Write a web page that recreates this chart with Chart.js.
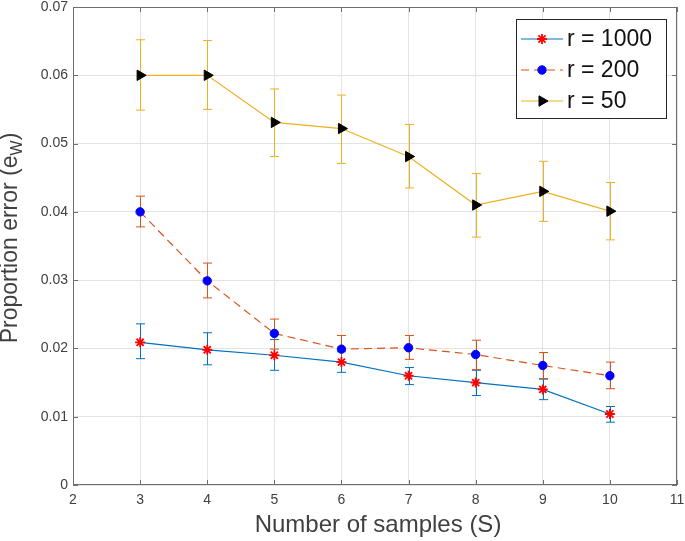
<!DOCTYPE html>
<html>
<head>
<meta charset="utf-8">
<title>Proportion error vs number of samples</title>
<script src="https://cdn.jsdelivr.net/npm/chart.js@4.4.1/dist/chart.umd.min.js"></script>
<style>
  html, body { margin: 0; padding: 0; background: #fff; }
  #chart { display: block; }
</style>
</head>
<body>
<canvas id="chart" width="685" height="541"></canvas>
<script>
// data
const samples = [3, 4, 5, 6, 7, 8, 9, 10];

const r1000 = [0.0209, 0.0198, 0.0190, 0.0180, 0.0160, 0.0150, 0.0140, 0.0104];
const r1000Hi = [0.0236, 0.0223, 0.0213, 0.0195, 0.0172, 0.0168, 0.0155, 0.0115];
const r1000Lo = [0.0185, 0.0176, 0.0168, 0.0165, 0.0147, 0.0131, 0.0125, 0.0092];

const r200 = [0.0400, 0.0299, 0.0222, 0.0199, 0.0201, 0.0191, 0.0175, 0.0160];
const r200Hi = [0.0423, 0.0325, 0.0243, 0.0219, 0.0219, 0.0212, 0.0194, 0.0180];
const r200Lo = [0.0378, 0.0274, 0.0199, 0.0180, 0.0184, 0.0169, 0.0156, 0.0141];

const r50 = [0.0600, 0.0600, 0.0531, 0.0522, 0.0481, 0.0410, 0.0430, 0.0401];
const r50Hi = [0.0652, 0.0651, 0.0580, 0.0571, 0.0528, 0.0456, 0.0474, 0.0443];
const r50Lo = [0.0549, 0.0550, 0.0481, 0.0471, 0.0435, 0.0363, 0.0386, 0.0359];

const seriesNames = ['r = 1000', 'r = 200', 'r = 50'];

const xTicks = [2, 3, 4, 5, 6, 7, 8, 9, 10, 11];
const yTicks = [0, 0.01, 0.02, 0.03, 0.04, 0.05, 0.06, 0.07];
const yTickLabels = ['0', '0.01', '0.02', '0.03', '0.04', '0.05', '0.06', '0.07'];

const xTitle = 'Number of samples (S)';
const yTitle = 'Proportion error (e';
const yTitleSub = 'W';

// matlab-ish colours
const blue = '#0072BD';
const orange = '#D95319';
const yellow = '#EDB120';
const axisColor = '#6e6e6e';
const textColor = '#404040';
const gridColor = '#e3e3e3';
const fontFamily = '"Liberation Sans", Arial, Helvetica, sans-serif';

const toPoints = (vals) => vals.map((v, i) => ({ x: samples[i], y: v }));

// error bars, drawn under the markers
const errorBars = {
    id: 'errorBars',
    beforeDatasetsDraw(chart) {
        const { ctx, scales: { x, y } } = chart;
        const bounds = [[r1000Lo, r1000Hi], [r200Lo, r200Hi], [r50Lo, r50Hi]];
        ctx.save();
        ctx.lineWidth = 1;
        chart.data.datasets.forEach((ds, n) => {
            ctx.strokeStyle = ds.borderColor;
            const [lo, hi] = bounds[n];
            samples.forEach((s, i) => {
                const px = Math.round(x.getPixelForValue(s)) + 0.5;
                const top = y.getPixelForValue(hi[i]);
                const bot = y.getPixelForValue(lo[i]);
                ctx.beginPath();
                ctx.moveTo(px, top); ctx.lineTo(px, bot);
                ctx.moveTo(px - 4.5, top); ctx.lineTo(px + 4.5, top);
                ctx.moveTo(px - 4.5, bot); ctx.lineTo(px + 4.5, bot);
                ctx.stroke();
            });
        });
        ctx.restore();
    }
};

// box, inward ticks, axis titles and the legend
const frame = {
    id: 'frame',
    afterDraw(chart) {
        const { ctx, chartArea: a, scales: { x, y } } = chart;
        ctx.save();
        ctx.strokeStyle = axisColor;
        ctx.lineWidth = 1;
        ctx.strokeRect(a.left + 0.5, a.top + 0.5, a.right - a.left - 1, a.bottom - a.top - 1);

        ctx.beginPath();
        xTicks.forEach(v => {
            const px = Math.round(x.getPixelForValue(v)) + 0.5;
            ctx.moveTo(px, a.bottom); ctx.lineTo(px, a.bottom - 5);
            ctx.moveTo(px, a.top); ctx.lineTo(px, a.top + 5);
        });
        yTicks.forEach(v => {
            const py = Math.round(y.getPixelForValue(v)) + 0.5;
            ctx.moveTo(a.left, py); ctx.lineTo(a.left + 5, py);
            ctx.moveTo(a.right, py); ctx.lineTo(a.right - 5, py);
        });
        ctx.stroke();

        // x title
        ctx.fillStyle = textColor;
        ctx.font = '24px ' + fontFamily;
        ctx.textAlign = 'center';
        ctx.textBaseline = 'alphabetic';
        ctx.fillText(xTitle, (a.left + a.right) / 2 + 3, 532);

        // y title with subscript
        ctx.save();
        ctx.translate(17, 238);
        ctx.rotate(-Math.PI / 2);
        ctx.font = '23px ' + fontFamily;
        const w1 = ctx.measureText(yTitle).width;
        ctx.font = '16px ' + fontFamily;
        const w2 = ctx.measureText(yTitleSub).width;
        ctx.font = '23px ' + fontFamily;
        const w3 = ctx.measureText(')').width;
        let tx = -(w1 + w2 + w3) / 2;
        ctx.textAlign = 'left';
        ctx.fillText(yTitle, tx, 0);
        tx += w1;
        ctx.font = '16px ' + fontFamily;
        ctx.fillText(yTitleSub, tx, 5);
        tx += w2;
        ctx.font = '23px ' + fontFamily;
        ctx.fillText(')', tx, 0);
        ctx.restore();

        // legend box
        const lx = 516, ly = 19, lw = 150, lh = 99;
        ctx.fillStyle = '#fff';
        ctx.fillRect(lx, ly, lw, lh);
        ctx.strokeStyle = '#262626';
        ctx.strokeRect(lx + 0.5, ly + 0.5, lw, lh);
        chart.data.datasets.forEach((ds, n) => {
            const cy = 39 + n * 31;
            ctx.save();
            ctx.strokeStyle = ds.borderColor;
            ctx.lineWidth = ds.borderWidth;
            ctx.setLineDash(ds.borderDash || []);
            ctx.beginPath();
            ctx.moveTo(521, cy); ctx.lineTo(563, cy);
            ctx.stroke();
            ctx.setLineDash([]);
            ctx.strokeStyle = ds.pointBorderColor;
            ctx.fillStyle = ds.pointBackgroundColor;
            ctx.lineWidth = ds.pointBorderWidth;
            Chart.helpers.drawPoint(ctx, {
                pointStyle: ds.pointStyle,
                rotation: ds.pointRotation || 0,
                radius: ds.pointRadius,
                borderWidth: ds.pointBorderWidth
            }, 542, cy);
            ctx.restore();
            ctx.fillStyle = '#111';
            ctx.font = '23px ' + fontFamily;
            ctx.textAlign = 'left';
            ctx.textBaseline = 'middle';
            ctx.fillText(seriesNames[n], 567, cy + 1);
        });
        ctx.restore();
    }
};

const ctx = document.getElementById('chart').getContext('2d');
new Chart(ctx, {
    type: 'line',
    data: {
        datasets: [{
            label: seriesNames[0],
            data: toPoints(r1000),
            borderColor: blue,
            borderWidth: 1.2,
            pointStyle: 'star',
            pointRadius: 5,
            pointBorderColor: '#ff0000',
            pointBackgroundColor: '#ff0000',
            pointBorderWidth: 1.8
        }, {
            label: seriesNames[1],
            data: toPoints(r200),
            borderColor: orange,
            borderWidth: 1.2,
            borderDash: [8, 5],
            pointStyle: 'circle',
            pointRadius: 4.2,
            pointBorderColor: '#0000ff',
            pointBackgroundColor: '#0000ff',
            pointBorderWidth: 1
        }, {
            label: seriesNames[2],
            data: toPoints(r50),
            borderColor: yellow,
            borderWidth: 1.2,
            pointStyle: 'triangle',
            pointRotation: 90,
            pointRadius: 6,
            pointBorderColor: '#000',
            pointBackgroundColor: '#000',
            pointBorderWidth: 1
        }]
    },
    options: {
        responsive: false,
        animation: false,
        layout: { padding: { left: 0, right: 8, top: 5, bottom: 0 } },
        plugins: {
            legend: { display: false },
            tooltip: { enabled: false }
        },
        scales: {
            x: {
                type: 'linear',
                min: 2,
                max: 11,
                afterBuildTicks: (scale) => { scale.ticks = xTicks.map(v => ({ value: v })); },
                afterFit: (scale) => {
                    scale.height = 56;
                    scale.paddingLeft = 0;
                    scale.paddingRight = 0;
                },
                grid: { color: gridColor, drawTicks: false },
                border: { display: false },
                ticks: {
                    padding: 7,
                    color: textColor,
                    font: { family: fontFamily, size: 14 },
                    maxRotation: 0,
                    callback: (v, i) => String(xTicks[i])
                }
            },
            y: {
                min: 0,
                max: 0.07,
                afterBuildTicks: (scale) => { scale.ticks = yTicks.map(v => ({ value: v })); },
                afterFit: (scale) => {
                    scale.width = 73;
                    scale.paddingTop = 0;
                    scale.paddingBottom = 0;
                },
                grid: { color: gridColor, drawTicks: false },
                border: { display: false },
                ticks: {
                    padding: 5,
                    color: textColor,
                    font: { family: fontFamily, size: 14 },
                    callback: (v, i) => yTickLabels[i]
                }
            }
        }
    },
    plugins: [errorBars, frame]
});
</script>
</body>
</html>
